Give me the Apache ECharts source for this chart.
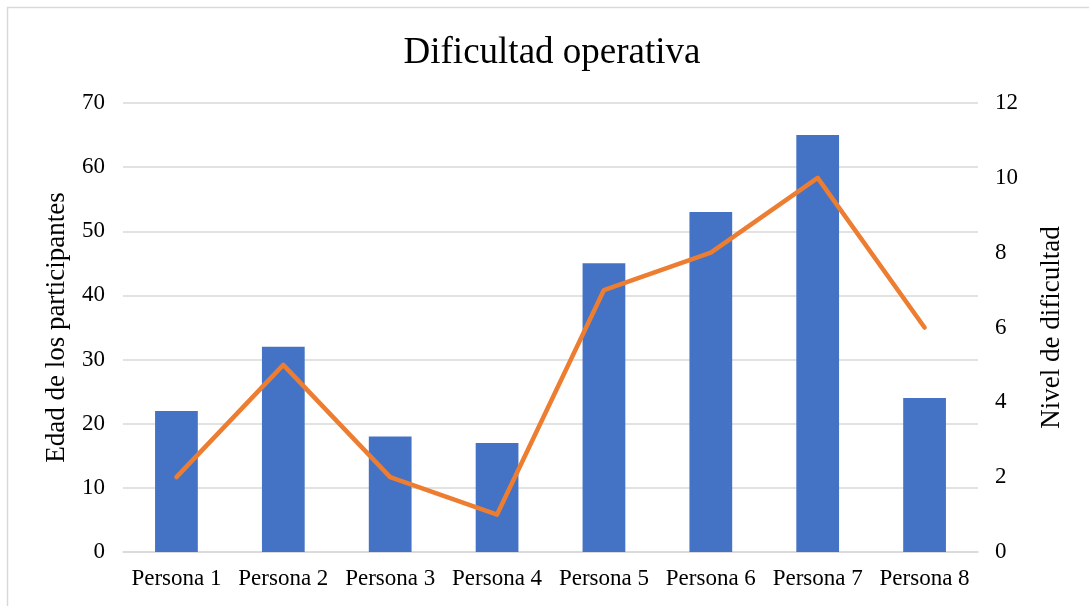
<!DOCTYPE html>
<html>
<head>
<meta charset="utf-8">
<script src="https://cdn.jsdelivr.net/npm/echarts@6/dist/echarts.min.js"></script>
<style>
html,body{margin:0;padding:0;background:#fff;}
#chart{width:1089px;height:606px;}
</style>
</head>
<body>
<div id="chart"></div>
<script>
const categories = ["Persona 1","Persona 2","Persona 3","Persona 4","Persona 5","Persona 6","Persona 7","Persona 8"];
const edades = [22, 32, 18, 17, 45, 53, 65, 24];
const dificultad = [2, 5, 2, 1, 7, 8, 10, 6];
const leftTicks = {min: 0, max: 70, interval: 10};
const rightTicks = {min: 0, max: 12, interval: 2};

const FONT = '"Liberation Serif", "Times New Roman", serif';
const chart = echarts.init(document.getElementById('chart'), null, {renderer: 'canvas'});
chart.setOption({
  animation: false,
  backgroundColor: '#fff',
  title: {
    text: 'Dificultad operativa',
    left: 547, top: 30, textAlign: 'center',
    textStyle: {fontFamily: FONT, fontSize: 37, fontWeight: 'normal', color: '#000'}
  },
  graphic: [{
    type: 'rect', silent: true, z: -1,
    shape: {x: 7.5, y: 7.5, width: 1200, height: 700},
    style: {fill: 'none', stroke: '#d9d9d9', lineWidth: 1.5}
  }],
  grid: {left: 123, right: 111, top: 103, bottom: 54},
  xAxis: {
    type: 'category', data: categories,
    axisLine: {lineStyle: {color: '#d9d9d9', width: 1.5}},
    axisTick: {show: false},
    axisLabel: {fontFamily: FONT, fontSize: 23, color: '#000', margin: 15, interval: 0}
  },
  yAxis: [{
    type: 'value', min: leftTicks.min, max: leftTicks.max, interval: leftTicks.interval,
    name: 'Edad de los participantes', nameLocation: 'middle', nameGap: 53, nameRotate: 90,
    nameTextStyle: {fontFamily: FONT, fontSize: 27, color: '#000'},
    axisLine: {show: false}, axisTick: {show: false},
    axisLabel: {fontFamily: FONT, fontSize: 23, color: '#000', margin: 18},
    splitLine: {lineStyle: {color: '#d9d9d9', width: 1.5}}
  }, {
    type: 'value', min: rightTicks.min, max: rightTicks.max, interval: rightTicks.interval,
    name: 'Nivel de dificultad', nameLocation: 'middle', nameGap: 60, nameRotate: 90,
    nameTextStyle: {fontFamily: FONT, fontSize: 27, color: '#000'},
    axisLine: {show: false}, axisTick: {show: false},
    axisLabel: {fontFamily: FONT, fontSize: 23, color: '#000', margin: 17},
    splitLine: {show: false}
  }],
  series: [{
    type: 'bar', data: edades, yAxisIndex: 0, barWidth: '40%',
    itemStyle: {color: '#4472C4'}
  }, {
    type: 'line', data: dificultad, yAxisIndex: 1, showSymbol: false, symbol: 'none',
    lineStyle: {color: '#ED7D31', width: 4.5, cap: 'round', join: 'round'},
    itemStyle: {color: '#ED7D31'}
  }]
});
</script>
</body>
</html>
